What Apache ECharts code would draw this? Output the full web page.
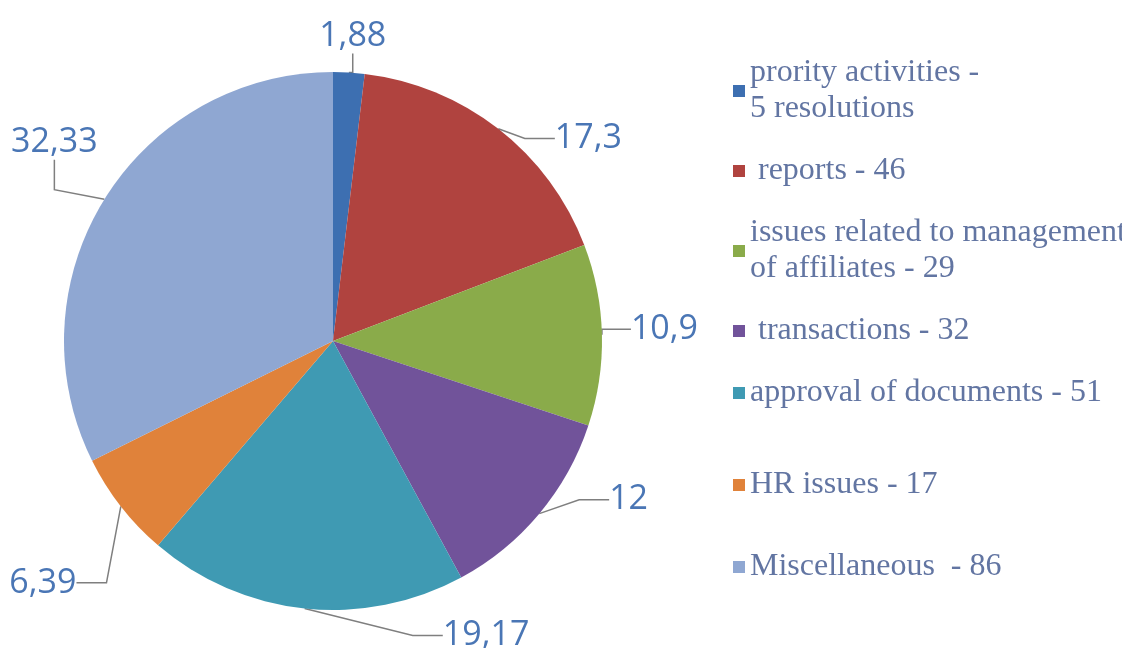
<!DOCTYPE html>
<html>
<head>
<meta charset="utf-8">
<script src="https://cdn.jsdelivr.net/npm/echarts@6/dist/echarts.min.js"></script>
<style>
  html, body { margin: 0; padding: 0; background: #fff; }
  #chart { width: 1122px; height: 648px; }
</style>
</head>
<body>
<div id="chart"></div>
<script>
  // slice names (legend text) and their shares, %
  var categories = [
    "prority activities -\n5 resolutions",
    " reports - 46",
    "issues related to management\nof affiliates - 29",
    " transactions - 32",
    "approval of documents - 51",
    "HR issues - 17",
    "Miscellaneous  - 86"
  ];
  var shares = [1.88, 17.3, 10.9, 12, 19.17, 6.39, 32.33];

  var colors = ["#3d6fb1", "#b0433f", "#8aab4a", "#71539a", "#3f9ab3", "#e0823a", "#8fa7d2"];

  // nudges for the value labels so they sit like the original (px)
  var labelNudge = [[-66, -14], [8, 27], [-28, -5], [18, -28], [262, 5], [8, 63], [47, -45]];

  var chart = echarts.init(document.getElementById("chart"));

  var data = categories.map(function (name, i) {
    return { name: name, value: shares[i] };
  });

  var legendText = {
    fontFamily: "Liberation Serif",
    fontSize: 32,
    lineHeight: 36,
    color: "#6275a2"
  };

  var option = {
    animation: false,
    color: colors,
    legend: [
      {
        orient: "vertical",
        left: 728,
        top: 50,
        icon: "rect",
        itemWidth: 12,
        itemHeight: 12,
        itemGap: 26,
        data: categories.slice(0, 5),
        textStyle: legendText
      },
      {
        orient: "vertical",
        left: 728,
        top: 462,
        icon: "rect",
        itemWidth: 12,
        itemHeight: 12,
        itemGap: 46,
        data: categories.slice(5),
        textStyle: legendText
      }
    ],
    series: [
      {
        name: "resolutions",
        type: "pie",
        center: [333, 341],
        radius: 269,
        startAngle: 90,
        clockwise: true,
        avoidLabelOverlap: false,
        label: {
          show: true,
          position: "outside",
          fontFamily: "Open Sans",
          fontSize: 34,
          color: "#4a76b5",
          formatter: function (p) {
            return String(p.value).replace(".", ",");
          }
        },
        labelLine: {
          show: true,
          length: 22,
          length2: 30,
          lineStyle: { color: "#7f7f7f", width: 1.5 }
        },
        labelLayout: function (p) {
          var n = labelNudge[p.dataIndex];
          return {
            x: p.labelRect.x + n[0],
            y: p.labelRect.y + n[1],
            align: "left",
            verticalAlign: "top"
          };
        },
        itemStyle: { borderWidth: 0 },
        emphasis: { disabled: true },
        data: data
      }
    ]
  };

  chart.setOption(option);
</script>
</body>
</html>
